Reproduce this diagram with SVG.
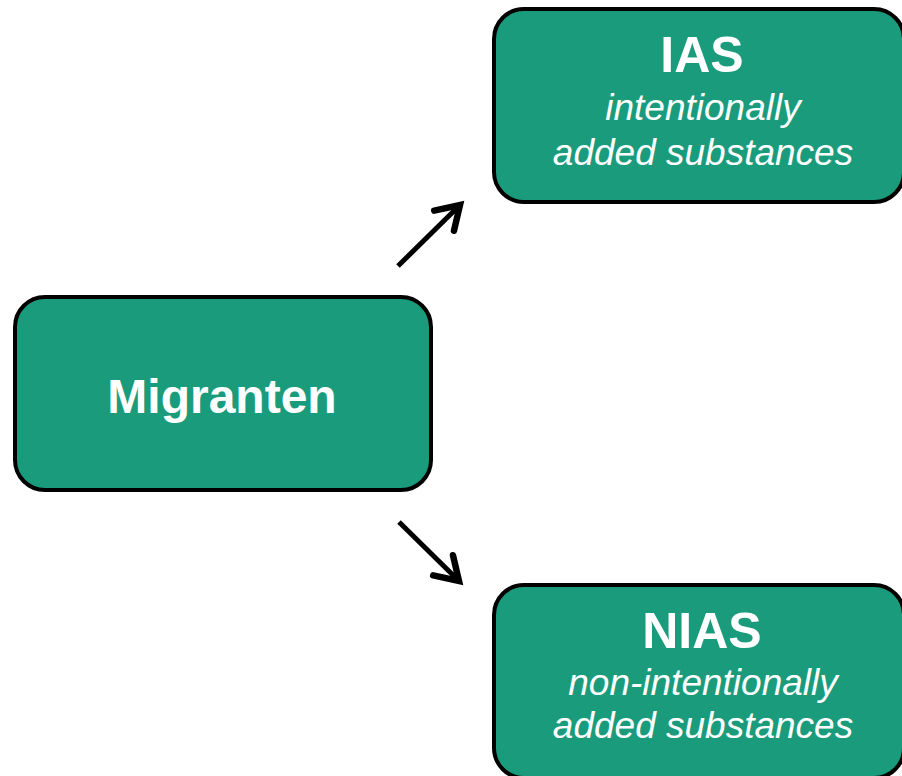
<svg xmlns="http://www.w3.org/2000/svg" width="902" height="776" viewBox="0 0 902 776">
<style>
.box{fill:#1a9c7c;stroke:#000;stroke-width:4}
.t{fill:#fff;font-family:"Liberation Sans",Arial,sans-serif;text-anchor:middle}
.b{font-weight:bold}
.i{font-style:italic;font-size:37px}
.c{fill:none;stroke:#000;stroke-width:5;stroke-linecap:butt;stroke-linejoin:miter}
</style>
<defs>
<marker id="ah" markerUnits="userSpaceOnUse" markerWidth="40" markerHeight="40" refX="0" refY="0" viewBox="-30 -15 34 30" orient="auto" overflow="visible">
<path d="M-19,-12 L0,0 L-19,12" fill="none" stroke="#000" stroke-width="5.5" stroke-linecap="round" stroke-linejoin="miter"/>
</marker>
</defs>
<rect width="902" height="776" fill="#fff"/>
<g id="connectors">
<line class="c" x1="398" y1="266" x2="460" y2="205" marker-end="url(#ah)"/>
<line class="c" x1="399" y1="522" x2="459" y2="581" marker-end="url(#ah)"/>
</g>
<g id="migranten">
<rect class="box" x="15" y="297" width="416" height="193" rx="30"/>
<text class="t b" x="222" y="413" font-size="48">Migranten</text>
</g>
<g id="ias">
<rect class="box" x="494" y="9" width="410" height="193" rx="30"/>
<text class="t b" x="702" y="72" font-size="50">IAS</text>
<text class="t i" x="703" y="120">intentionally</text>
<text class="t i" x="703" y="165">added substances</text>
</g>
<g id="nias">
<rect class="box" x="494" y="585" width="410" height="193" rx="30"/>
<text class="t b" x="702" y="648" font-size="50">NIAS</text>
<text class="t i" x="703" y="695">non-intentionally</text>
<text class="t i" x="703" y="738">added substances</text>
</g>
</svg>
